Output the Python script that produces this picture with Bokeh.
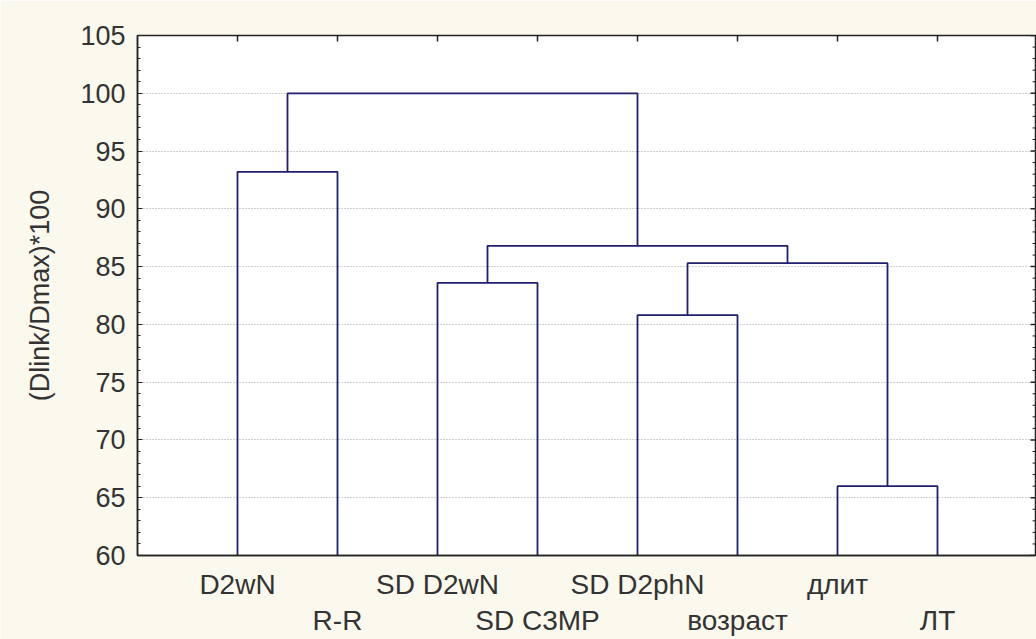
from bokeh.plotting import figure
from bokeh.models import LinearAxis, FixedTicker, SingleIntervalTicker, Range1d, Grid
from bokeh.embed import file_html
from bokeh.resources import INLINE

# ---- data ----
leaves = ["D2wN", "R-R", "SD D2wN", "SD C3MP", "SD D2phN", "возраст", "длит", "ЛТ"]
# linkage: clusters 0..7 are leaves, 8.. are merges in order
merge_a = [0, 2, 4, 6, 10, 9, 8]
merge_b = [1, 3, 5, 7, 11, 12, 13]
merge_h = [93.2, 83.6, 80.8, 66.0, 85.3, 86.8, 100.0]
y_min, y_max = 60, 105
y_step = 5
y_minor_step = 1
y_label = "(Dlink/Dmax)*100"

# ---- build dendrogram links ----
pos = [i + 1 for i in range(len(leaves))]
hgt = [y_min] * len(leaves)
xs, ys = [], []
for a, b, h in zip(merge_a, merge_b, merge_h):
    xs.append([pos[a], pos[a], pos[b], pos[b]])
    ys.append([hgt[a], h, h, hgt[b]])
    pos.append((pos[a] + pos[b]) / 2)
    hgt.append(h)

FONT = "Liberation Sans"
TXT = "#333333"
LINE = "#1F1F6E"
AX = "#222222"

W, H = 1036, 639
BL, BT, BR, BB = 137, 35, 1, 84
x_min, x_max = 0, 8.98
p = figure(width=W, height=H,
           x_range=Range1d(x_min, x_max), y_range=Range1d(y_min, y_max),
           output_backend="svg", toolbar_location=None,
           x_axis_type=None, y_axis_type=None,
           min_border_left=BL, min_border_top=BT, min_border_right=BR, min_border_bottom=BB,
           background_fill_color="white", border_fill_color="#FBF8EE")
p.outline_line_color = AX
p.outline_line_width = 1.5

# left axis
yt = SingleIntervalTicker(interval=y_step, num_minor_ticks=5)
yl = LinearAxis(ticker=yt, axis_label=y_label)
yl.axis_line_color = AX
yl.axis_line_width = 1.5
yl.major_tick_in = 5
yl.major_tick_out = 0
yl.minor_tick_in = 3
yl.minor_tick_out = 0
yl.major_tick_line_color = AX
yl.minor_tick_line_color = AX
yl.major_label_standoff = 12
yl.major_label_text_font = FONT
yl.major_label_text_font_size = "27px"
yl.major_label_text_color = TXT
yl.axis_label_text_font = FONT
yl.axis_label_text_font_size = "27px"
yl.axis_label_text_font_style = "normal"
yl.axis_label_text_color = TXT
yl.axis_label_standoff = 22
p.add_layout(yl, "left")

# inward ticks on the top and right frame edges (drawn as short segments)
px_per_y = (H - BT - BB) / (y_max - y_min)
px_per_x = (W - BL - BR) / (x_max - x_min)
n_leaf = len(leaves)
top_x = list(range(1, n_leaf + 1))
p.segment(x0=top_x, y0=[y_max] * n_leaf, x1=top_x, y1=[y_max - 6 / px_per_y] * n_leaf,
          line_color=AX, line_width=1.5)
r_major = list(range(y_min, y_max + 1, y_step))
r_minor = [v for v in range(y_min, y_max + 1, y_minor_step) if v % y_step]
p.segment(x0=[x_max] * len(r_major), y0=r_major, x1=[x_max - 5 / px_per_x] * len(r_major), y1=r_major,
          line_color=AX, line_width=1.5)
p.segment(x0=[x_max] * len(r_minor), y0=r_minor, x1=[x_max - 3 / px_per_x] * len(r_minor), y1=r_minor,
          line_color=AX, line_width=1)

# bottom axes: two rows of labels
odd = [i + 1 for i in range(0, n_leaf, 2)]
even = [i + 1 for i in range(1, n_leaf, 2)]
xb1 = LinearAxis(ticker=FixedTicker(ticks=odd),
                 major_label_overrides={t: leaves[t - 1] for t in odd})
xb2 = LinearAxis(ticker=FixedTicker(ticks=even),
                 major_label_overrides={t: leaves[t - 1] for t in even})
for ax, so in ((xb1, 13), (xb2, 2)):
    ax.major_tick_in = 0
    ax.major_tick_out = 0
    ax.minor_tick_line_color = None
    ax.major_label_standoff = so
    ax.major_label_text_font = FONT
    ax.major_label_text_font_size = "28px"
    ax.major_label_text_color = TXT
xb1.axis_line_color = AX
xb1.axis_line_width = 1.5
xb2.axis_line_color = None
p.add_layout(xb1, "below")
p.add_layout(xb2, "below")

# grid
g = Grid(dimension=1, ticker=yt)
g.grid_line_color = "#a0a0a0"
g.grid_line_dash = "1 2"
g.grid_line_width = 1
p.add_layout(g)

p.multi_line(xs, ys, line_color=LINE, line_width=1.8)

open("out.html", "w").write(file_html(p, INLINE))
